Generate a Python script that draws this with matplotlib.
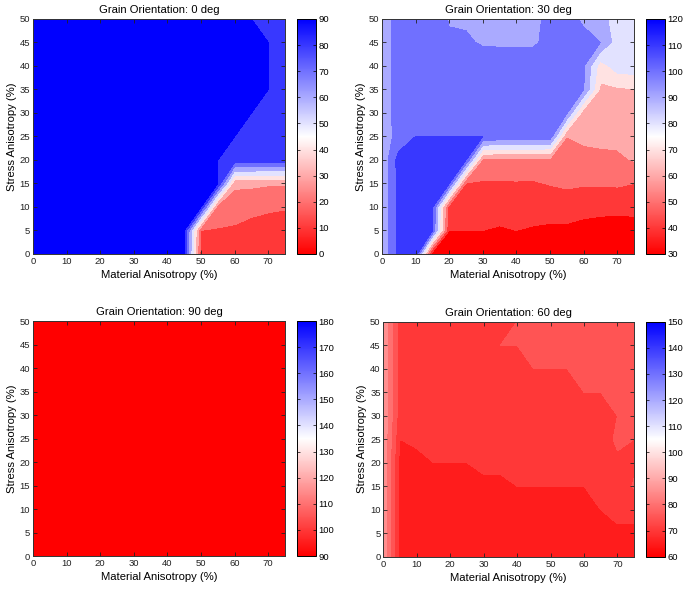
import matplotlib
matplotlib.use('Agg')
import matplotlib.pyplot as plt
from matplotlib.colors import LinearSegmentedColormap, Normalize
from matplotlib.cm import ScalarMappable

plt.rcParams['font.family'] = ['Liberation Sans', 'DejaVu Sans']

# grid: material anisotropy (x) and stress anisotropy (y), in %
mat_aniso = [0, 5, 10, 15, 20, 25, 30, 35, 40, 45, 50, 55, 60, 65, 70, 75]
stress_aniso = [0, 5, 10, 15, 20, 25, 30, 35, 40, 45, 50]

# rows = stress anisotropy 0..50, columns = material anisotropy 0..75
angle_0 = [
    [90, 90, 90, 90, 90, 90, 90, 90, 90, 90, 15, 15, 15, 14, 14, 14],
    [90, 90, 90, 90, 90, 90, 90, 90, 90, 90, 20, 19.5, 18.7, 17.5, 17, 16.5],
    [90, 90, 90, 90, 90, 90, 90, 90, 90, 90, 90, 24, 24, 22, 21, 20.5],
    [90, 90, 90, 90, 90, 90, 90, 90, 90, 90, 90, 90, 32, 32, 31, 31],
    [90, 90, 90, 90, 90, 90, 90, 90, 90, 90, 90, 90, 85, 85, 85, 85],
    [90, 90, 90, 90, 90, 90, 90, 90, 90, 90, 90, 90, 90, 85, 85, 85],
    [90, 90, 90, 90, 90, 90, 90, 90, 90, 90, 90, 90, 90, 90, 85, 85],
    [90, 90, 90, 90, 90, 90, 90, 90, 90, 90, 90, 90, 90, 90, 90, 85],
    [90, 90, 90, 90, 90, 90, 90, 90, 90, 90, 90, 90, 90, 90, 90, 85],
    [90, 90, 90, 90, 90, 90, 90, 90, 90, 90, 90, 90, 90, 90, 90, 85],
    [90, 90, 90, 90, 90, 90, 90, 90, 90, 90, 90, 90, 90, 90, 85, 85],
]

angle_30 = [
    [92, 113, 119, 33, 33, 33, 33, 33, 33, 33, 33, 33, 33, 33, 33, 33],
    [92, 113, 116, 110, 40, 40, 40, 39, 40, 39, 38.5, 38.5, 37.5, 37, 36.7, 37],
    [92, 113, 116, 112, 45, 45, 45, 44, 45, 44, 43.5, 43.5, 42.5, 42, 41.7, 42],
    [92, 113, 116, 114, 110, 49, 49, 49, 49.2, 49, 50.5, 52, 51, 51, 51.5, 50],
    [92, 114, 115, 114, 113, 110, 57, 57, 57, 57, 57, 57, 57.5, 58, 58.5, 60.5],
    [95, 103, 110, 110, 110, 110, 110, 107, 107, 107, 106, 60, 61.5, 62, 62, 63],
    [95, 104, 104, 104, 104, 104, 104, 104, 104, 104, 104, 101, 64, 65, 65, 66],
    [95, 104, 104, 104, 104, 104, 104, 104, 104, 104, 104, 104, 100.5, 68, 68.5, 69.5],
    [95, 104, 104, 104, 104, 104, 104, 104, 104, 104, 104, 104, 101, 75, 85, 86],
    [95, 104, 104, 104, 101, 101, 99.2, 99, 99, 99, 102, 103, 102, 100, 85, 85],
    [95, 104, 104, 104, 99.5, 99, 98, 98, 98, 98, 102, 102, 99, 94, 85, 85],
]

angle_90 = [
    [90, 90, 90, 90, 90, 90, 90, 90, 90, 90, 90, 90, 90, 90, 90, 90],
    [90, 90, 90, 90, 90, 90, 90, 90, 90, 90, 90, 90, 90, 90, 90, 90],
    [90, 90, 90, 90, 90, 90, 90, 90, 90, 90, 90, 90, 90, 90, 90, 90],
    [90, 90, 90, 90, 90, 90, 90, 90, 90, 90, 90, 90, 90, 90, 90, 90],
    [90, 90, 90, 90, 90, 90, 90, 90, 90, 90, 90, 90, 90, 90, 90, 90],
    [90, 90, 90, 90, 90, 90, 90, 90, 90, 90, 90, 90, 90, 90, 90, 90],
    [90, 90, 90, 90, 90, 90, 90, 90, 90, 90, 90, 90, 90, 90, 90, 90],
    [90, 90, 90, 90, 90, 90, 90, 90, 90, 90, 90, 90, 90, 90, 90, 90],
    [90, 90, 90, 90, 90, 90, 90, 90, 90, 90, 90, 90, 90, 90, 90, 90],
    [90, 90, 90, 90, 90, 90, 90, 90, 90, 90, 90, 90, 90, 90, 90, 90],
    [90, 90, 90, 90, 90, 90, 90, 90, 90, 90, 90, 90, 90, 90, 90, 90],
]

angle_60 = [
    [89, 68, 67, 67, 67, 67, 67, 67, 67, 67, 67, 67, 67, 67, 67, 67],
    [89, 68, 67, 67, 67, 67, 67, 67, 67, 67, 67, 67, 67, 67, 69, 69],
    [89, 68, 67, 67, 67, 67, 67, 67, 67, 67, 67, 67, 68, 70, 71.5, 71.5],
    [89, 68, 68, 68, 68, 68, 68.5, 68.5, 70, 70, 70, 70, 70, 71, 72, 75.5],
    [89, 68, 68.5, 70, 70, 70, 71.5, 71.5, 72, 72, 72, 72, 72, 73, 74, 74],
    [89, 70, 71, 72, 72, 72, 72, 72, 72, 72, 72, 72, 73, 72, 76, 75],
    [89, 72, 72, 72, 72, 72, 72, 72, 72, 72, 72, 72, 73, 74, 75, 76],
    [89, 72, 72, 72, 72, 72, 72, 72, 72, 72, 72, 73, 75, 75, 76, 76],
    [89, 72, 72, 72, 72, 72, 72, 72, 73, 75, 75, 75, 76, 76, 76, 76],
    [89, 72, 72, 72, 72, 72, 72, 75, 75, 76, 76, 76, 76, 76, 76, 76],
    [89, 72, 72, 72, 72, 72, 73, 73, 75, 76, 76, 76, 76, 76, 76, 76],
]

orientations = [0, 30, 90, 60]
angles = [angle_0, angle_30, angle_90, angle_60]
ranges = [(0, 90), (30, 120), (90, 180), (60, 150)]
steps = [10, 10, 10, 5]

cmap = LinearSegmentedColormap.from_list('rwb', ['#ff0000', '#ffffff', '#0000ff'], N=256)

fig = plt.figure(figsize=(6.85, 5.89), dpi=100)

# [left, bottom, width, height] in figure fractions
ax_pos = [[0.0482, 0.5688, 0.3679, 0.399], [0.5577, 0.5688, 0.3679, 0.399],
          [0.0482, 0.056, 0.3679, 0.399], [0.5597, 0.0548, 0.3660, 0.399]]
cax_pos = [[0.4336, 0.5688, 0.0277, 0.399], [0.943, 0.5688, 0.0277, 0.399],
           [0.4336, 0.056, 0.0277, 0.399], [0.943, 0.0548, 0.0277, 0.399]]

for k in range(4):
    ax = fig.add_axes(ax_pos[k])
    cax = fig.add_axes(cax_pos[k])
    vmin, vmax = ranges[k]
    step = steps[k]
    norm = Normalize(vmin=vmin, vmax=vmax)
    lev = list(range(vmin, vmax + 1, step))
    # matlab-like: each band coloured by its lower level, values on a level belong to band above
    levels = [l - 1e-6 for l in lev] + [vmax + step]
    colors = [cmap(norm(l)) for l in lev]
    ax.contourf(mat_aniso, stress_aniso, angles[k], levels=levels, colors=colors)
    ax.set_xlim(0, 75)
    ax.set_ylim(0, 50)
    ax.set_xticks(range(0, 71, 10))
    ax.set_yticks(range(0, 51, 5))
    ax.tick_params(direction='in', top=True, right=True, length=3, width=0.6,
                   labelsize=6.8, pad=2, colors='#222222')
    for sp in ax.spines.values():
        sp.set_linewidth(0.7)
        sp.set_color('#333333')
    ax.set_title('Grain Orientation: %d deg' % orientations[k], fontsize=8.1, pad=4)
    ax.set_xlabel('Material Anisotropy (%)', fontsize=8.1, labelpad=3)
    ax.set_ylabel('Stress Anisotropy (%)', fontsize=8.1, labelpad=2)

    sm = ScalarMappable(norm=norm, cmap=cmap)
    cb = fig.colorbar(sm, cax=cax, ticks=range(vmin, vmax + 1, 10))
    cb.outline.set_linewidth(0.7)
    cb.ax.tick_params(direction='in', left=True, right=True, length=2, width=0.5,
                      labelsize=6.8, pad=2)

fig.savefig('out.png', dpi=100)
